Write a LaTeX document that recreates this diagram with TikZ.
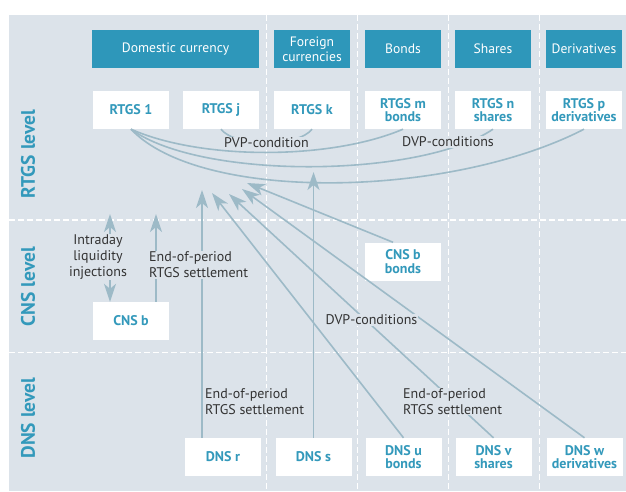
\documentclass[tikz,border=0pt]{standalone}
\usepackage{fontspec}
\setmainfont{PT Sans}
\usetikzlibrary{arrows.meta,calc}
\definecolor{bgc}{HTML}{DCE3EA}
\definecolor{headc}{HTML}{2E97BA}
\definecolor{tealc}{HTML}{3399BB}
\definecolor{linec}{HTML}{9DBAC7}
\definecolor{txtc}{HTML}{333333}
\tikzset{
  headbox/.style={fill=headc, text=white, minimum height=38pt, inner sep=0pt, align=center, font=\fontsize{13.6}{15}\selectfont},
  wbox/.style={fill=white, text=tealc, minimum width=76pt, minimum height=38pt, inner sep=0pt, align=center, font=\fontsize{14}{13.5}\selectfont\bfseries},
  lvl/.style={text=tealc, rotate=90, font=\fontsize{19.5}{21}\selectfont\bfseries},
  lbl/.style={fill=bgc, text=txtc, inner sep=1pt, font=\fontsize{14}{15.8}\selectfont},
  sep/.style={white, line width=1.3pt, dash pattern=on 6pt off 3pt},
  conn/.style={linec, line width=1.6pt},
  arr/.style={conn, -{Stealth[length=18pt,width=12pt,inset=5pt]}},
  darr/.style={conn, {Stealth[length=18pt,width=12pt,inset=5pt]}-{Stealth[length=18pt,width=12pt,inset=5pt]}}
}
\begin{document}
\begin{tikzpicture}[x=1pt,y=-1pt]
\useasboundingbox (0,0) rectangle (626,491);
\fill[bgc] (9,15) rectangle (626,491);
% separators
\foreach \xx in {266.5,357.5,448.5,539.5} \draw[sep] (\xx,15) -- (\xx,491);
\foreach \yy in {220,352.5} \draw[sep] (9,\yy) -- (626,\yy);
% level labels
\node[lvl] (lr) at (28,154) {RTGS level};
\node[lvl] (lc) at (28,286.5) {CNS level};
\node[lvl] (ld) at (28,418) {DNS level};
% headers
\node[headbox, minimum width=167pt] (hdom) at (175.5,49) {Domestic currency};
\node[headbox, minimum width=76pt] (hfor) at (312,49) {Foreign\\currencies};
\node[headbox, minimum width=76pt] (hbon) at (403,49) {Bonds};
\node[headbox, minimum width=76pt] (hsha) at (493,49) {Shares};
\node[headbox, minimum width=76pt] (hder) at (584,49) {Derivatives};
% RTGS boxes
\node[wbox] (r1) at (131,110) {RTGS 1};
\node[wbox] (rj) at (221,110) {RTGS j};
\node[wbox] (rk) at (312,110) {RTGS k};
\node[wbox] (rm) at (403,110) {RTGS m\\bonds};
\node[wbox] (rn) at (493,110) {RTGS n\\shares};
\node[wbox] (rp) at (584,110) {RTGS p\\derivatives};
% CNS boxes
\node[wbox] (cb) at (131,321) {CNS b};
\node[wbox] (cbb) at (403,261.5) {CNS b\\bonds};
% DNS boxes
\node[wbox] (dr) at (223,457) {DNS r};
\node[wbox] (ds) at (313.5,457) {DNS s};
\node[wbox] (du) at (403.5,457) {DNS u\\bonds};
\node[wbox] (dv) at (493.5,457) {DNS v\\shares};
\node[wbox] (dw) at (584.5,457) {DNS w\\derivatives};
% tip coordinates
\coordinate (tr) at (202,190);
\coordinate (ts) at (312,172);
\coordinate (tu) at (212,193);
\coordinate (tv) at (229,194);
\coordinate (tw) at (242,189);
\coordinate (tb) at (247,183);
\coordinate (tc1) at (110,214);
\coordinate (tc2) at (156,214);
% curves RTGS
\draw[conn] (rj.south) .. controls +(14,18) and +(-14,18) .. (rk.south);
\draw[conn] (r1.south) .. controls +(70,31) and +(-73,31) .. (rm.south);
\draw[conn] (r1.south) .. controls +(70,51) and +(-73,49) .. (rn.south);
\draw[conn] (r1.south) .. controls +(70,74) and +(-134,69) .. (rp.south);
% arrows
\draw[arr] (dr.north west -| tr) -- (tr);
\draw[arr] (ds.north) -- (ds.north |- ts);
\draw[arr] (du.north) -- (tu);
\draw[arr] (dv.north) -- (tv);
\draw[arr] (dw.north) -- (tw);
\draw[arr] ($(cbb.north west)!0.37!(cbb.north east)$) -- (tb);
\draw[darr] (cb.north west -| tc1) -- (tc1);
\draw[arr] (cb.north west -| tc2) -- (tc2);
% labels
\node[lbl] (pvp) at (266.5,143) {PVP-condition};
\node[lbl] (dvp1) at (448,142) {DVP-conditions};
\node[lbl, align=center] (intra) at (98,257) {Intraday\\liquidity\\injections};
\node[lbl, align=left, anchor=west] (eop1) at (148,265) {End-of-period\\RTGS settlement};
\node[lbl] (dvp2) at (371.5,320) {DVP-conditions};
\node[lbl, align=left, anchor=west] (eop2) at (204,401.5) {End-of-period\\RTGS settlement};
\node[lbl, align=left, anchor=west] (eop3) at (402,401.5) {End-of-period\\RTGS settlement};
\end{tikzpicture}
\end{document}
